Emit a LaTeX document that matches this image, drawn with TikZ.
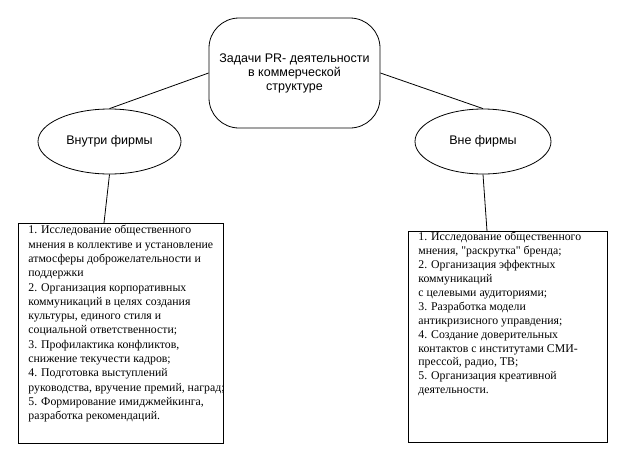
\documentclass[tikz,border=0pt]{standalone}
\usepackage{fontspec}
\setmainfont{Liberation Serif}
\newfontfamily\plainserif{Liberation Serif}
\newfontfamily\sansf{Liberation Sans}
\usetikzlibrary{shapes.geometric}
\tikzset{
  every path/.style={line width=0.8pt},
  titlebox/.style={draw, rounded corners=30pt, minimum width=171pt, minimum height=110pt, align=center, inner sep=0pt, font=\sansf\fontsize{12.5}{14}\selectfont},
  oval/.style={draw, ellipse, inner sep=0pt, font=\sansf\fontsize{12.5}{14}\selectfont},
  listbox/.style={draw, anchor=north west, inner sep=0pt},
  listtext/.style={anchor=north west, align=left, inner sep=0pt, font=\plainserif\fontsize{11.8}{14.3}\selectfont}
}
\begin{document}
\begin{tikzpicture}[x=1pt,y=-1pt]
\useasboundingbox (0,0) rectangle (624,461);
\node[titlebox] (top) at (294.5,73) {Задачи PR- деятельности\\в коммерческой\\структуре};
\node[oval, minimum width=143pt, minimum height=65pt] (le) at (109.5,141.5) {Внутри фирмы};
\node[oval, minimum width=136pt, minimum height=65pt] (re) at (483,141.5) {Вне фирмы};
\node[listbox, minimum width=205pt, minimum height=220pt] (lb) at (18,223) {};
\node[listbox, minimum width=199pt, minimum height=211pt] (rb) at (408,231) {};
\node[listtext] (lt) at (28,225) {1. Исследование общественного\\мнения в коллективе и установление\\атмосферы доброжелательности и\\поддержки\\2. Организация корпоративных\\коммуникаций в целях создания\\культуры, единого стиля и\\социальной ответственности;\\3. Профилактика конфликтов,\\снижение текучести кадров;\\4. Подготовка выступлений\\руководства, вручение премий, наград;\\5. Формирование имиджмейкинга,\\разработка рекомендаций.};
\node[listtext, font=\plainserif\fontsize{11.8}{13.9}\selectfont] (rt) at (418,232) {1. Исследование общественного\\мнения, "раскрутка" бренда;\\2. Организация эффектных\\коммуникаций\\с целевыми аудиториями;\\3. Разработка модели\\антикризисного управдения;\\4. Создание доверительных\\контактов с институтами СМИ-\\прессой, радио, ТВ;\\5. Организация креативной\\деятельности.};
\coordinate (lj) at (104,223);
\coordinate (rj) at (487,231);
\draw (top.west) -- (le.north);
\draw (top.east) -- (re.north);
\draw (le.south) -- (lj);
\draw (re.south) -- (rj);
\end{tikzpicture}
\end{document}
